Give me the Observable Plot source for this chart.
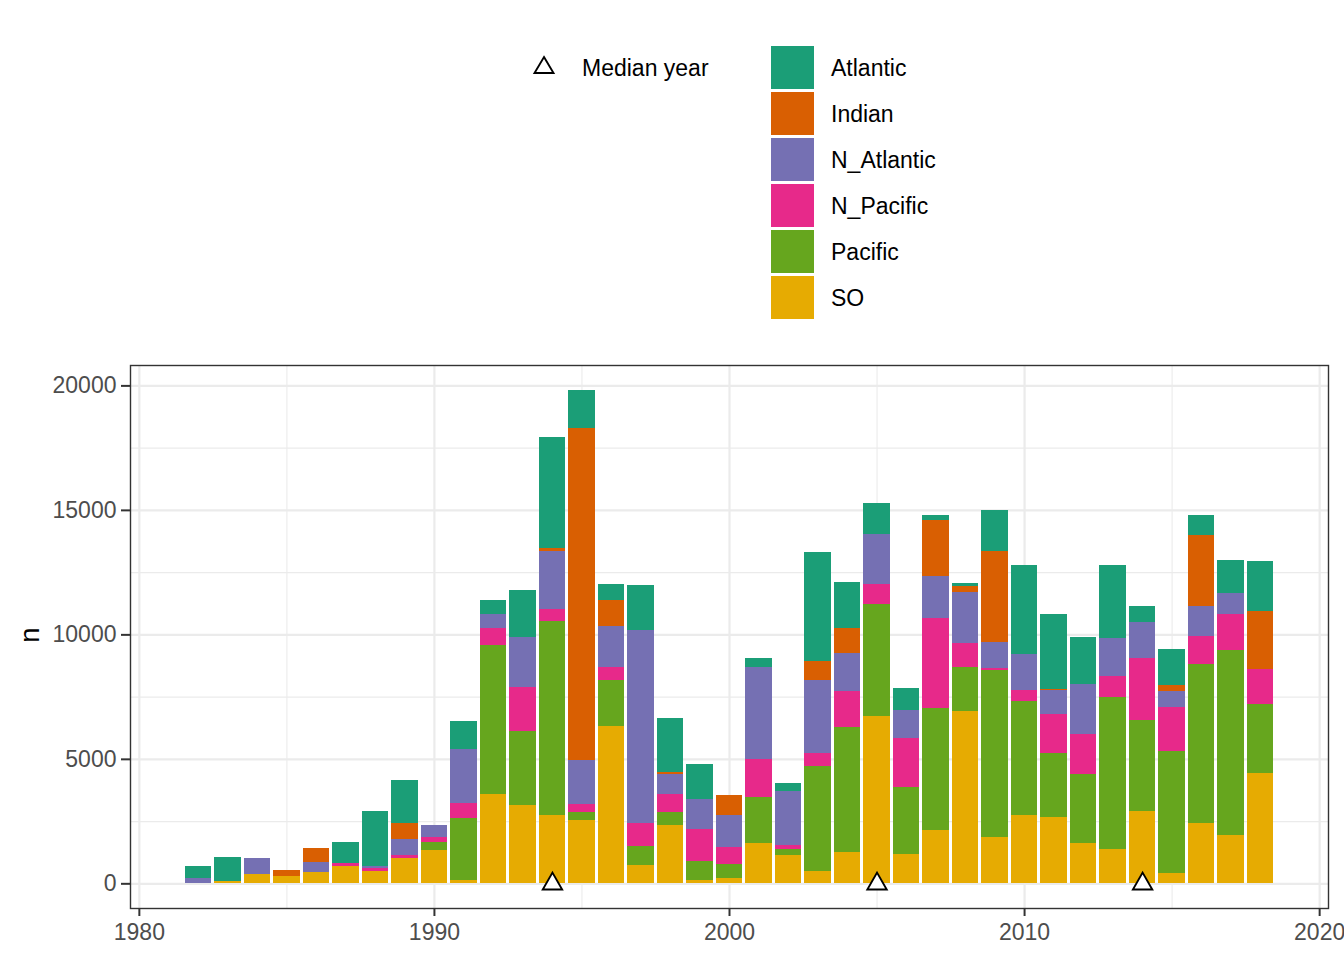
<!DOCTYPE html>
<html><head><meta charset="utf-8">
<script src="https://cdn.jsdelivr.net/npm/d3@7"></script>
<script src="https://cdn.jsdelivr.net/npm/@observablehq/plot@0.6"></script>
<style>
html,body{margin:0;padding:0;background:#fff;overflow:hidden;}
#wrap{position:relative;width:1344px;height:960px;font-family:"Liberation Sans",Arial,Helvetica,sans-serif;color:#000;}
#chart{position:absolute;left:0;top:340px;}
.lg-key{position:absolute;left:771px;width:43px;height:43px;}
.lg-txt{position:absolute;left:831px;font-size:23px;line-height:43px;height:43px;white-space:nowrap;}
#medtxt{position:absolute;left:582px;top:47px;font-size:23px;line-height:43px;white-space:nowrap;}
#medsym{position:absolute;left:532px;top:52px;}
#ylab{position:absolute;left:30px;top:635px;font-size:27.5px;transform:translate(-50%,-50%) rotate(-90deg);}
</style></head>
<body><div id="wrap">
<div id="legend"></div>
<div id="ylab">n</div>
<div id="chart"></div>
</div>
<script>
const years = [1982,1983,1984,1985,1986,1987,1988,1989,1990,1991,1992,1993,1994,1995,1996,1997,1998,1999,2000,2001,2002,2003,2004,2005,2006,2007,2008,2009,2010,2011,2012,2013,2014,2015,2016,2017,2018];
const basins = ["Atlantic","Indian","N_Atlantic","N_Pacific","Pacific","SO"];
const colors = ["#1B9E77","#D95F02","#7570B3","#E7298A","#66A61E","#E6AB02"];
const SO = [0,80,360,280,440,680,480,1000,1320,130,3580,3140,2740,2540,6310,735,2340,135,215,1600,1120,480,1240,6720,1160,2160,6920,1880,2730,2650,1600,1365,2915,430,2435,1950,4440];
const Pacific = [0,0,0,0,0,0,0,0,320,2500,5980,2970,7780,320,1845,760,520,760,560,1850,240,4240,5040,4480,2720,4880,1760,6680,4600,2590,2810,6120,3665,4895,6390,7435,2780];
const N_Pacific = [0,0,0,0,0,130,120,130,210,590,695,1765,480,320,520,920,720,1285,680,1550,160,520,1440,840,1960,3600,960,80,455,1580,1605,855,2485,1740,1125,1445,1390];
const N_Atlantic = [200,0,640,0,400,0,90,670,480,2170,550,2005,2330,1780,1645,7780,800,1200,1285,3680,2170,2930,1520,2000,1120,1720,2080,1040,1445,960,2005,1525,1445,670,1205,830,0];
const Indian = [0,0,0,240,560,0,0,615,0,0,0,0,135,13320,1080,0,95,0,800,0,30,750,1010,0,0,2240,240,3680,0,40,0,0,0,215,2835,0,2325];
const Atlantic = [480,960,0,0,0,830,2230,1750,30,1120,560,1885,4480,1550,640,1805,2150,1400,0,360,320,4400,1870,1240,880,200,120,1640,3555,3000,1870,2915,630,1470,800,1325,2005];
const medianYears = [1994,2005,2014];
const yTicks = [0,5000,10000,15000,20000];
const yMinor = [2500,7500,12500,17500];
const xTicks = [1980,1990,2000,2010,2020];
const xMinor = [1985,1995,2005,2015];

// stack order bottom -> top
const stackOrder = [["SO",SO],["Pacific",Pacific],["N_Pacific",N_Pacific],["N_Atlantic",N_Atlantic],["Indian",Indian],["Atlantic",Atlantic]];
const rows = [];
years.forEach((yr,i)=>{
  let acc = 0;
  for (const [name,arr] of stackOrder) {
    const v = arr[i];
    if (v > 0) rows.push({year: yr, basin: name, y1: acc, y2: acc + v});
    acc += v;
  }
});

const font = '"Liberation Sans",Arial,Helvetica,sans-serif';
const plot = Plot.plot({
  width: 1344, height: 620,
  marginTop: 25, marginBottom: 52, marginLeft: 130, marginRight: 16,
  style: {fontFamily: font, background: "transparent", overflow: "visible"},
  x: {domain: [1979.7, 2020.3], axis: null},
  y: {domain: [-991, 20819], axis: null},
  color: {domain: basins, range: colors},
  marks: [
    Plot.gridY(yMinor, {stroke: "#EBEBEB", strokeOpacity: 1, strokeWidth: 1.1}),
    Plot.gridX(xMinor, {stroke: "#EBEBEB", strokeOpacity: 1, strokeWidth: 1.1}),
    Plot.gridY(yTicks, {stroke: "#EBEBEB", strokeOpacity: 1, strokeWidth: 2.2}),
    Plot.gridX(xTicks, {stroke: "#EBEBEB", strokeOpacity: 1, strokeWidth: 2.2}),
    Plot.rect(rows, {x1: d => d.year - 0.45, x2: d => d.year + 0.45, y1: "y1", y2: "y2", fill: "basin", shapeRendering: "crispEdges"}),
    Plot.dot(medianYears, {x: d => d, y: () => 0, symbol: "triangle", r: 7.2, stroke: "black", fill: "white", strokeWidth: 1.9}),
    Plot.frame({stroke: "#333333", strokeWidth: 1.4}),
    Plot.axisY(yTicks, {anchor: "left", tickSize: 9, tickPadding: 5, tickFormat: d => String(d), fontSize: 23, stroke: "#333333", strokeWidth: 2, fill: "#4D4D4D", label: null}),
    Plot.axisX(xTicks, {anchor: "bottom", tickSize: 8, tickPadding: 7, tickFormat: d => String(d), fontSize: 23, stroke: "#333333", strokeWidth: 2, fill: "#4D4D4D", label: null})
  ]
});
document.getElementById("chart").appendChild(plot);

// legend
const lg = document.getElementById("legend");
const tops = [46,92,138,184,230,276];
basins.forEach((b,i)=>{
  const k = document.createElement("div");
  k.className = "lg-key"; k.style.top = tops[i] + "px"; k.style.background = colors[i];
  lg.appendChild(k);
  const t = document.createElement("div");
  t.className = "lg-txt"; t.style.top = (tops[i] + 1) + "px"; t.textContent = b;
  lg.appendChild(t);
});
const mt = document.createElement("div"); mt.id = "medtxt"; mt.textContent = "Median year"; lg.appendChild(mt);
const ms = document.createElementNS("http://www.w3.org/2000/svg","svg");
ms.setAttribute("id","medsym"); ms.setAttribute("width","24"); ms.setAttribute("height","24");
ms.innerHTML = '<polygon points="12,5 21.5,21 2.5,21" fill="white" stroke="black" stroke-width="1.9"/>';
lg.appendChild(ms);
</script>
</body></html>
